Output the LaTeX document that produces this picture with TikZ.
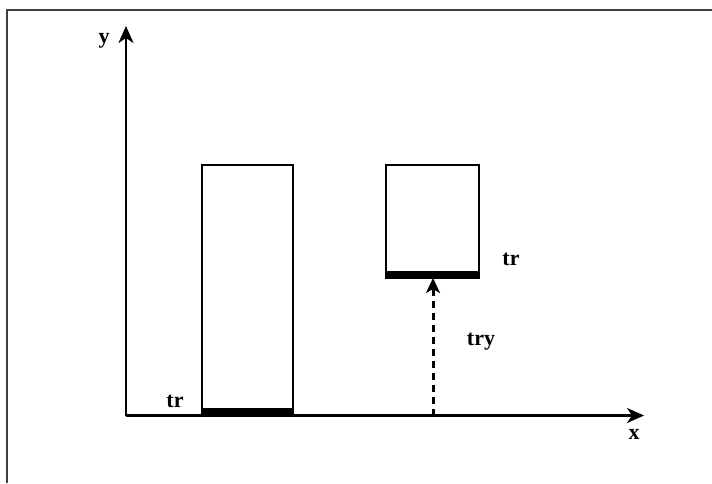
\documentclass[tikz,border=0pt]{standalone}
\usepackage{fontspec}
\setmainfont{Liberation Serif}
\usetikzlibrary{arrows.meta}
\begin{document}
\begin{tikzpicture}[x=1pt,y=-1pt,
  axis/.style={line width=2.6pt,-{Stealth[length=17pt,width=15pt,inset=5pt]}},
  box/.style={draw,line width=1.6pt,inner sep=0pt,outer sep=0pt},
  bar/.style={fill=black,draw=none},
  lbl/.style={font=\fontsize{22}{26}\selectfont\bfseries,inner sep=0pt},
  dasharrow/.style={line width=3pt,dash pattern=on 7pt off 5pt,-{Stealth[length=15pt,width=14pt,inset=4pt]}}]
\useasboundingbox (0,0) rectangle (712,483);
% frame
\coordinate (fl) at (6.5,483);
\coordinate (fc) at (6.5,10);
\coordinate (fr) at (712,10);
\draw[line width=2pt,draw=black!75] (fl) -- (fc) -- (fr);
% axes
\coordinate (O) at (126,415.5);
\coordinate (ytip) at (126,26);
\coordinate (xtip) at (644,415.5);
\draw[axis] (O) -- (ytip);
\draw[axis] (O) -- (xtip);
\node[lbl] (ylab) at (104,41) {y};
\node[lbl] (xlab) at (634,434) {x};
% rect 1
\node[box,minimum width=91pt,minimum height=250pt] (r1) at (247.5,290) {};
\fill[bar] (r1.south west) rectangle ([yshift=7pt]r1.south east);
\node[lbl] (t1) at (175,401) {tr};
% rect 2
\node[box,minimum width=93pt,minimum height=113pt] (r2) at (432.5,221.5) {};
\fill[bar] (r2.south west) rectangle ([yshift=7pt]r2.south east);
\node[lbl] (t2) at (511,259) {tr};
% dashed arrow
\coordinate (d0) at (433,415.5);
\draw[dasharrow] (d0) -- (d0 |- r2.south);
\node[lbl] (t3) at (481,342) {try};
\end{tikzpicture}
\end{document}
